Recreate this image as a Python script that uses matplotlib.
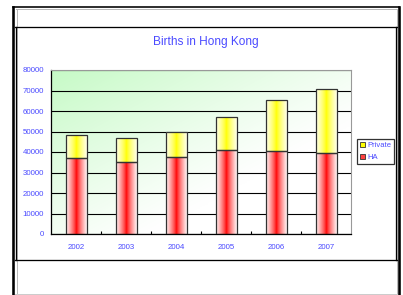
import matplotlib
matplotlib.use('Agg')
import matplotlib.pyplot as plt
import numpy as np
from matplotlib.patches import Patch
from matplotlib.lines import Line2D

# data
years = ['2002', '2003', '2004', '2005', '2006', '2007']
ha_births = [37000, 35300, 37500, 41000, 40500, 39500]
private_births = [11200, 11700, 12300, 16100, 25100, 31100]

W, H = 403, 295
BLUE = '#4a4aff'

plt.rcParams['font.family'] = ['Liberation Sans', 'DejaVu Sans']


def fx(x):
    return x / W


def fy(y):
    return 1 - y / H


def gradient_fill(ax, patch, center, edge):
    """Fill a bar with a horizontal gradient: strong colour in the middle, pale at the sides."""
    x0, y0 = patch.get_x(), patch.get_y()
    w, h = patch.get_width(), patch.get_height()
    t = np.linspace(-1, 1, 64)
    k = np.abs(t) ** 0.75
    c = np.array(center)[None, :] * (1 - k[:, None]) + np.array(edge)[None, :] * k[:, None]
    img = c[None, :, :] / 255.0
    im = ax.imshow(img, extent=(x0, x0 + w, y0, y0 + h), aspect='auto',
                   interpolation='bilinear', zorder=2)
    im.set_clip_path(patch)


fig = plt.figure(figsize=(W / 100, H / 100), dpi=100)

# frames around the chart
lines = [
    ((13.5, 13.5), (6.5, 300), 'black', 2.6),
    ((398.5, 398.5), (6.5, 300), 'black', 2.6),
    ((13.5, 398.5), (6.5, 6.5), 'black', 1.6),
    ((16, 396), (8.5, 8.5), '#bbbbbb', 1.0),
    ((16.5, 16.5), (8.5, 300), '#bbbbbb', 1.0),
    ((396.5, 396.5), (8.5, 300), '#bbbbbb', 1.0),
    ((15, 397), (26.5, 26.5), 'black', 1.3),
    ((16.3, 16.3), (26.5, 260), 'black', 1.3),
    ((396, 396), (26.5, 260), 'black', 1.3),
    ((15, 397), (260, 260), 'black', 1.3),
    ((15, 397), (294, 294), '#cccccc', 1.0),
]
for xs, ys, col, lw in lines:
    fig.add_artist(Line2D([fx(v) for v in xs], [fy(v) for v in ys],
                          color=col, lw=lw * 0.72, transform=fig.transFigure))

ax = fig.add_axes([fx(51), fy(234), (351 - 51) / W, (234 - 70) / H])

# green diagonal gradient in the plot area
u = np.linspace(0, 1, 200)
v = np.linspace(1, 0, 120)
U, V = np.meshgrid(u, v)
wgt = np.clip(1 - (U * 0.9 + (1 - V) * 0.9) / 1.2, 0, 1) ** 1.1
green = np.array([198, 250, 198]) / 255.0
bg = np.ones((120, 200, 3)) * (1 - wgt[..., None]) + green * wgt[..., None]
ax.imshow(bg, extent=(0, 1, 0, 1), transform=ax.transAxes, aspect='auto',
          interpolation='bilinear', zorder=0)

x = np.arange(len(years))
bw = 0.42
ha_bars = ax.bar(x, ha_births, bw, color='none', edgecolor='#333333', lw=0.9, zorder=3)
pr_bars = ax.bar(x, private_births, bw, bottom=ha_births, color='none',
                 edgecolor='#333333', lw=0.9, zorder=3)
for p in ha_bars:
    gradient_fill(ax, p, (255, 0, 0), (255, 245, 245))
for p in pr_bars:
    gradient_fill(ax, p, (255, 255, 0), (255, 255, 235))

ax.set_xlim(-0.5, len(years) - 0.5)
ax.set_ylim(0, 80000)
ax.set_yticks(range(0, 80001, 10000))
ax.yaxis.grid(True, color='black', lw=0.8, zorder=1)
ax.set_axisbelow(True)
ax.set_xticks(x)
ax.set_xticklabels(years)
ax.set_xticks(x[:-1] + 0.5, minor=True)
ax.tick_params(axis='x', which='major', length=0, pad=7, labelsize=5.7, labelcolor=BLUE)
ax.tick_params(axis='x', which='minor', length=2, direction='in', width=0.8)
ax.tick_params(axis='y', length=0, pad=5, labelsize=5.7, labelcolor=BLUE)

for s in ['top', 'right']:
    ax.spines[s].set_color('#999999')
    ax.spines[s].set_linewidth(0.8)
for s in ['left', 'bottom']:
    ax.spines[s].set_color('black')
    ax.spines[s].set_linewidth(0.9)

fig.text(fx(206), fy(42), 'Births in Hong Kong', ha='center', va='center',
         fontsize=8.6, color=BLUE)

handles = [Patch(facecolor='#ffff00', edgecolor='#333333', lw=0.6, label='Private'),
           Patch(facecolor='#ff4040', edgecolor='#333333', lw=0.6, label='HA')]
leg = fig.legend(handles=handles, loc='upper left',
                 bbox_to_anchor=(fx(357), fy(139)), fontsize=5.5,
                 frameon=True, fancybox=False, handlelength=0.7, handleheight=0.7,
                 handletextpad=0.3, borderpad=0.35, labelspacing=0.6,
                 borderaxespad=0)
leg.get_frame().set_edgecolor('black')
leg.get_frame().set_linewidth(0.9)
for t in leg.get_texts():
    t.set_color(BLUE)

fig.savefig('out.png', dpi=100)
